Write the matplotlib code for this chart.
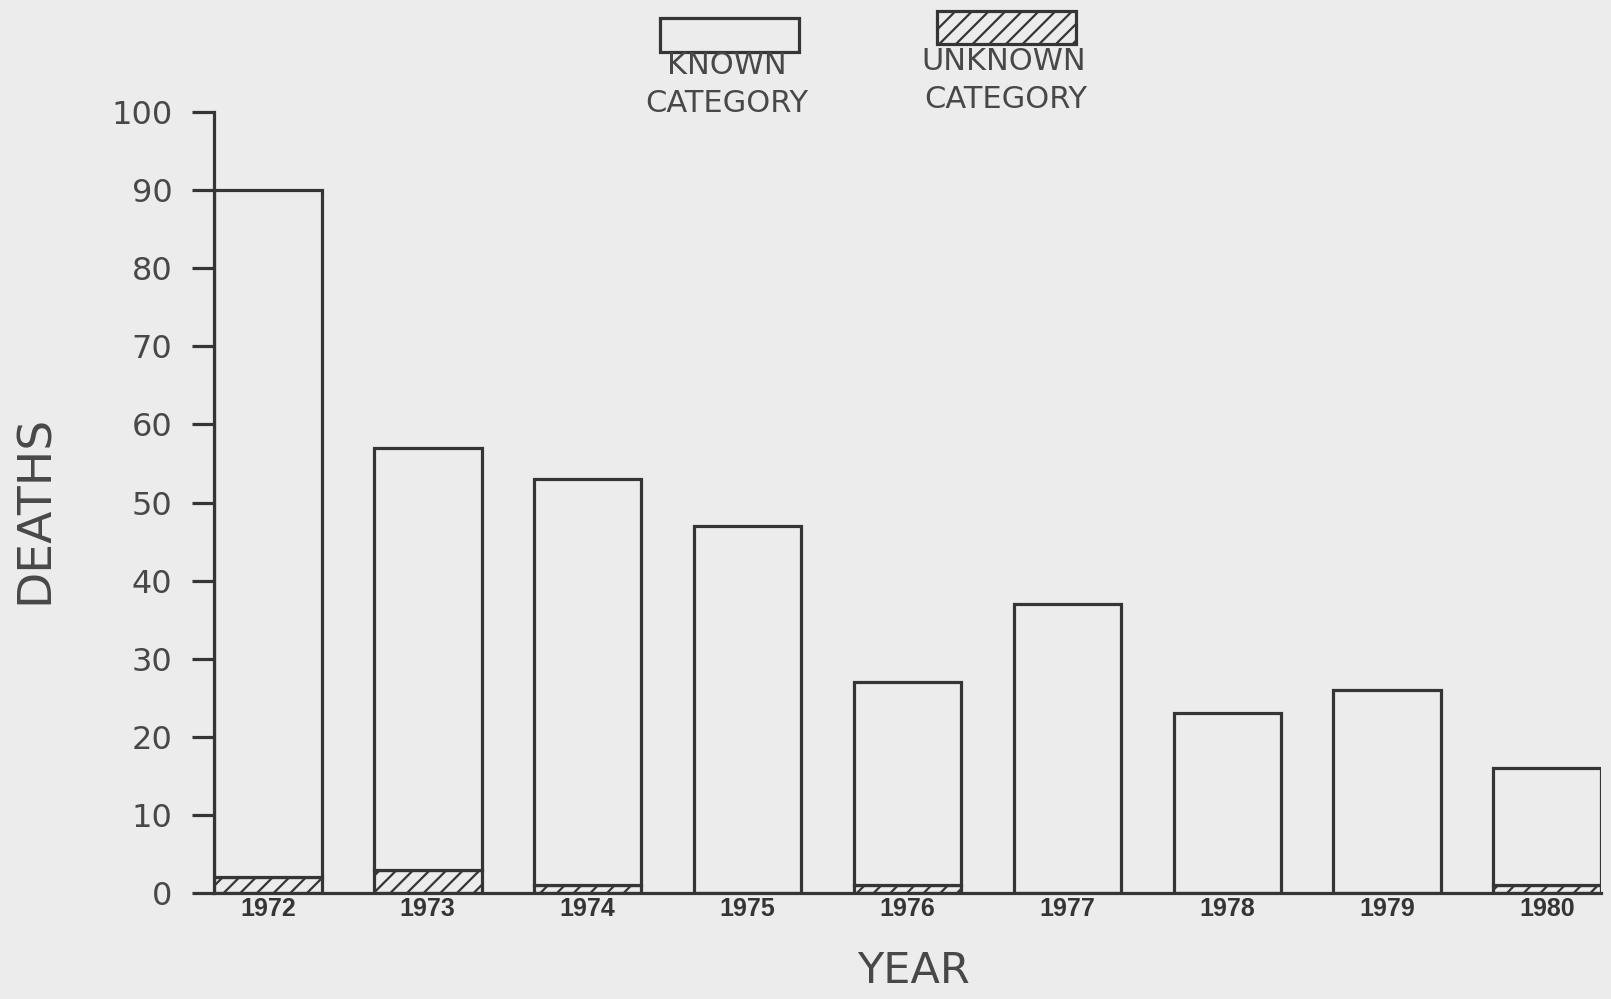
import matplotlib
matplotlib.use('Agg')
import matplotlib.pyplot as plt
from matplotlib.patches import Rectangle

# 数据：每年死亡人数（已知类别 / 未知类别）
years = ['1972', '1973', '1974', '1975', '1976', '1977', '1978', '1979', '1980']
unknown = [2, 3, 1, 0, 1, 0, 0, 0, 1]
known = [88, 54, 52, 47, 26, 37, 23, 26, 15]

y_ticks = [0, 10, 20, 30, 40, 50, 60, 70, 80, 90, 100]

paper = '#ececec'
ink = '#353535'
text_col = '#484848'

plt.rcParams['font.family'] = ['DejaVu Sans']
plt.rcParams['hatch.linewidth'] = 1.6
plt.rcParams['hatch.color'] = ink

fig = plt.figure(figsize=(16.11, 9.99), dpi=100, facecolor=paper)
ax = fig.add_axes([0.1328, 0.106, 0.861, 0.7818])
ax.set_facecolor(paper)

x = list(range(len(years)))
width = 0.673
ax.bar(x, unknown, width=width, facecolor=paper, edgecolor=ink,
       linewidth=2.3, hatch='//')
ax.bar(x, known, width=width, bottom=unknown, facecolor=paper,
       edgecolor=ink, linewidth=2.3)

ax.set_xlim(-width / 2, len(years) - 1 + width / 2)
ax.set_ylim(0, 100)

ax.spines['top'].set_visible(False)
ax.spines['right'].set_visible(False)
for s in ('left', 'bottom'):
    ax.spines[s].set_linewidth(2.3)
    ax.spines[s].set_color(ink)

ax.set_yticks(y_ticks)
ax.set_yticklabels([str(v) for v in y_ticks])
ax.tick_params(axis='y', length=16, width=2.3, color=ink, pad=14,
               labelsize=23, labelcolor=text_col)
ax.set_xticks(x)
ax.set_xticklabels(years, family='Liberation Sans', fontweight='bold',
                   fontsize=18)
ax.tick_params(axis='x', length=0, pad=3, labelcolor=ink)

fig.text(0.567, 0.028, 'YEAR', ha='center', va='center', fontsize=31,
         color=text_col)
fig.text(0.0217, 0.49, 'DEATHS', ha='center', va='center', fontsize=34,
         rotation=90, color=text_col)

# 图例：手动绘制两个方框
H, W = 999.0, 1611.0
fig.patches.append(Rectangle((660 / W, 1 - 52 / H), 139 / W, 34 / H,
                             transform=fig.transFigure, facecolor=paper,
                             edgecolor=ink, linewidth=2.3))
fig.patches.append(Rectangle((937 / W, 1 - 44 / H), 139 / W, 33 / H,
                             transform=fig.transFigure, facecolor=paper,
                             edgecolor=ink, linewidth=2.3, hatch='//'))
fig.text(727 / W, 1 - 65 / H, 'KNOWN', ha='center', va='center',
         fontsize=22, color=text_col)
fig.text(727 / W, 1 - 104 / H, 'CATEGORY', ha='center', va='center',
         fontsize=22, color=text_col)
fig.text(1004 / W, 1 - 61 / H, 'UNKNOWN', ha='center', va='center',
         fontsize=22, color=text_col)
fig.text(1006 / W, 1 - 99 / H, 'CATEGORY', ha='center', va='center',
         fontsize=22, color=text_col)

fig.savefig('out.png', dpi=100, facecolor=paper)
plt.close(fig)
